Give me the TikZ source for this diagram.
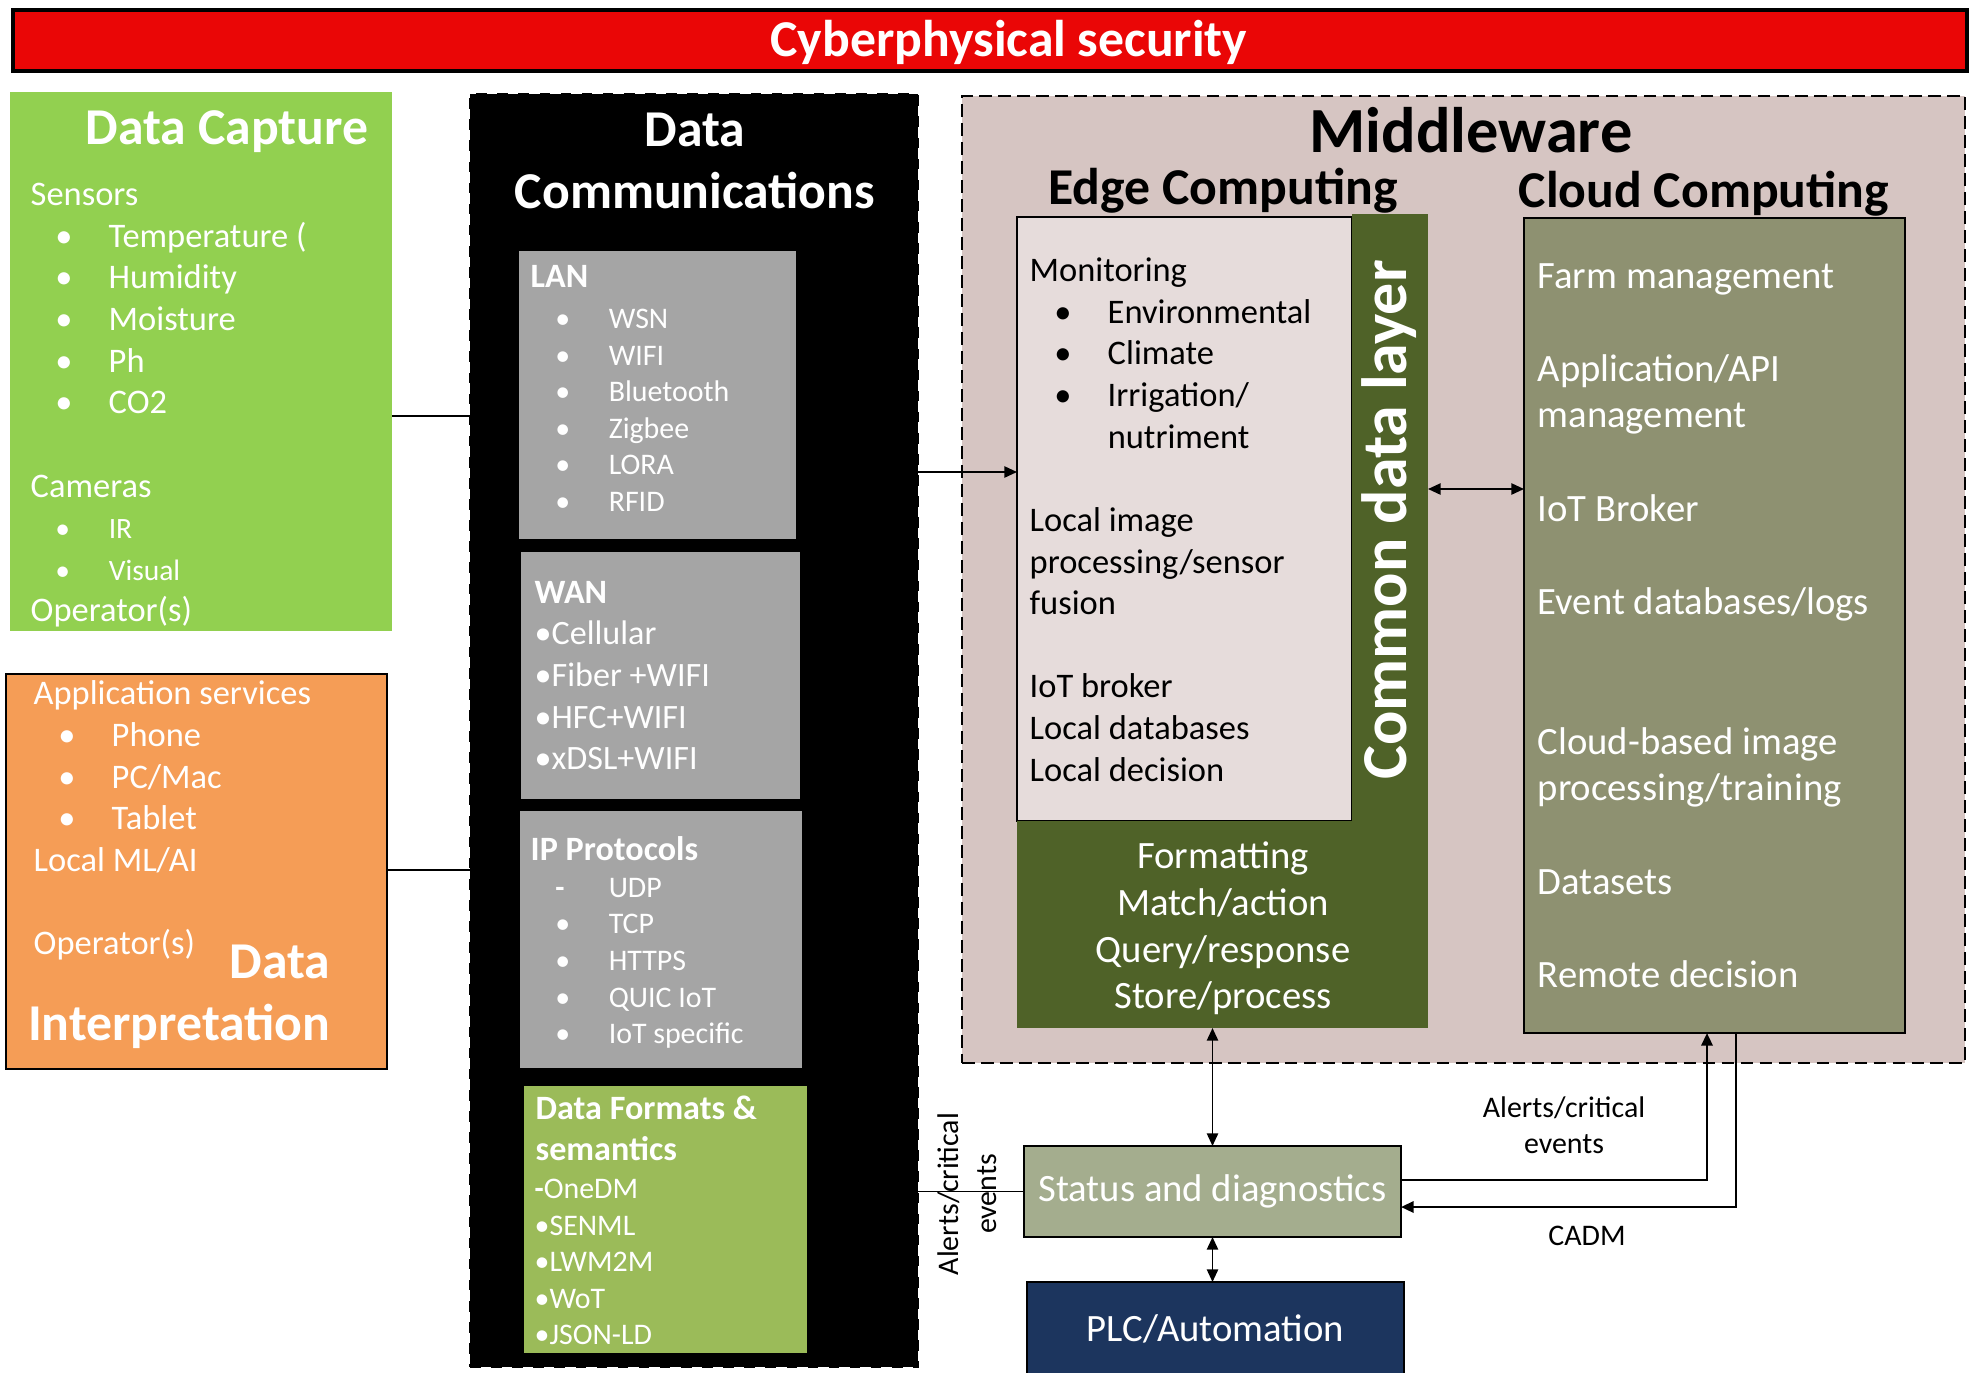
\documentclass[tikz,border=0pt]{standalone}
\usepackage{fontspec}
\setmainfont{Carlito}
\usetikzlibrary{arrows.meta,fit}
\definecolor{secred}{HTML}{EA0606}
\definecolor{capgreen}{HTML}{92D050}
\definecolor{intorange}{HTML}{F59D56}
\definecolor{netgray}{HTML}{A5A5A5}
\definecolor{fmtgreen}{HTML}{9BBB59}
\definecolor{midrose}{HTML}{D6C5C2}
\definecolor{edgerose}{HTML}{E6DCDB}
\definecolor{layergreen}{HTML}{4F6228}
\definecolor{cloudolive}{HTML}{8E9171}
\definecolor{statsage}{HTML}{A4AD8E}
\definecolor{plcnavy}{HTML}{1C355E}
\newcommand{\bitem}[2][\textbullet]{\hspace*{7pt}\makebox[15.2pt][l]{#1}#2}

\begin{document}
\begin{tikzpicture}[
    x=0.01cm, y=-0.01cm,
    >={Triangle[length=3.6pt,width=3.2pt]},
    area/.style={inner sep=0pt, outer sep=0pt},
    txthead/.style={font=\bfseries\fontsize{14.7pt}{17.5pt}\selectfont, text=white, inner sep=0pt, anchor=base, align=center},
    txtbody/.style={font=\fontsize{9.8pt}{11.83pt}\selectfont, text=white, inner sep=0pt, anchor=base west, align=left},
    txtsmall/.style={font=\fontsize{8.5pt}{10.4pt}\selectfont, text=white, inner sep=0pt, anchor=base west, align=left},
    boxhead/.style={font=\bfseries\fontsize{9.7pt}{11.83pt}\selectfont, text=white, inner sep=0pt, anchor=base west, align=left},
    txtlarge/.style={font=\fontsize{11pt}{13.26pt}\selectfont, text=white, inner sep=0pt},
    link/.style={line width=0.5pt},
    flow/.style={->, line width=0.5pt},
    twoway/.style={<->, line width=0.5pt},
    lbl/.style={font=\fontsize{8.5pt}{10.2pt}\selectfont, inner sep=0pt, align=center}
  ]
  \useasboundingbox (0,0) rectangle (1975,1372);

  % Security banner
  \node[area, fill=secred, draw=black, line width=1.2pt, fit={(13,10) (1967,71)}] (sec) {};
  \node[txthead] (sectxt) at (1009,56) {Cyberphysical security};

  % Data capture (multi-line nodes sit on their last baseline)
  \node[area, fill=capgreen, fit={(10,92) (392,631)}] (dcap) {};
  \node[txthead] (dcaptitle) at (227,144) {Data Capture};
  \node[txtbody] (dcaplist) at (30,621.8) {Sensors\\ \bitem{Temperature (}\\ \bitem{Humidity}\\
    \bitem{Moisture}\\ \bitem{Ph}\\ \bitem{CO2}\\ \\ Cameras\\
    {\fontsize{8.4pt}{11.83pt}\selectfont\bitem{IR}}\\
    {\fontsize{8.4pt}{11.83pt}\selectfont\bitem{Visual}}\\ Operator(s)};

  % Data interpretation
  \node[area, fill=intorange, draw=black, line width=0.6pt, fit={(6,674) (387,1069)}] (dint) {};
  \node[txtbody] (dintlist) at (33,954.5) {Application services\\ \bitem{Phone}\\ \bitem{PC/Mac}\\
    \bitem{Tablet}\\ Local ML/AI\\ \\ Operator(s)};
  \node[txthead, anchor=base east, align=right] (dinttitle) at (331,1040.5) {Data\\Interpretation};

  % Data communications
  \node[area, fill=black, draw=black, dashed, line width=0.8pt, fit={(470,94) (918,1367)}] (dcomm) {};
  \node[txthead] (dcommtitle) at (695,208) {Data\\Communications};

  \node[area, fill=netgray, fit={(519,251) (796,539)}] (lan) {};
  \node[boxhead] (lanhead) at (530,287) {LAN};
  \node[txtsmall] (lanlist) at (530,511.3) {\bitem{WSN}\\ \bitem{WIFI}\\ \bitem{Bluetooth}\\
    \bitem{Zigbee}\\ \bitem{LORA}\\ \bitem{RFID}};

  \node[area, fill=netgray, fit={(521,552) (800,799)}] (wan) {};
  \node[boxhead] (wanhead) at (534,603) {WAN};
  \node[txtbody, font=\fontsize{9.7pt}{11.83pt}\selectfont] (wanlist) at (534,769.7)
    {\textbullet Cellular\\ \textbullet Fiber +WIFI\\ \textbullet HFC+WIFI\\ \textbullet xDSL+WIFI};

  \node[area, fill=netgray, fit={(520,811) (802,1068)}] (ipp) {};
  \node[boxhead] (iphead) at (530,860) {IP Protocols};
  \node[txtsmall] (iplist) at (530,1043.7) {\bitem[\textbf{-}]{UDP}\\ \bitem{TCP}\\ \bitem{HTTPS}\\
    \bitem{QUIC IoT}\\ \bitem{IoT specific}};

  \node[area, fill=fmtgreen, fit={(524,1086) (807,1353)}] (fmt) {};
  \node[boxhead] (fmthead) at (535,1160.6) {Data Formats \&\\ semantics};
  \node[txtsmall] (fmtlist) at (534,1344.7) {\textbf{-}OneDM\\ \textbullet SENML\\ \textbullet LWM2M\\
    \textbullet WoT\\ \textbullet JSON-LD};

  % Middleware
  \node[area, fill=midrose, draw=black, line width=0.7pt, dash pattern=on 3.6pt off 1.8pt,
    fit={(962,96) (1965,1063)}] (mid) {};
  \node[txthead, text=black, font=\bfseries\fontsize{18.3pt}{22pt}\selectfont] (midtitle) at (1471,152) {Middleware};
  \node[txthead, text=black] (edgetitle) at (1223,204.5) {Edge Computing};
  \node[txthead, text=black] (cloudtitle) at (1704,207.5) {Cloud Computing};

  \node[area, fill=edgerose, draw=black, line width=0.5pt, fit={(1017,217) (1352,821)}] (edge) {};
  \node[area, fill=layergreen, fit={(1352,214) (1428,1028)}] (cdl) {};
  \node[area, fill=layergreen, fit={(1017,821) (1428,1028)}] (cdlb) {};
  \node[txtbody, text=black] (edgelist) at (1029,781) {Monitoring\\ \bitem{Environmental}\\
    \bitem{Climate}\\ \bitem{Irrigation/}\\ \hspace*{22.2pt}nutriment\\ \\ Local image\\
    processing/sensor\\ fusion\\ \\ IoT broker\\ Local databases\\ Local decision};
  \node[rotate=90, text=white, font=\bfseries\fontsize{18.2pt}{22pt}\selectfont, inner sep=0pt] (cdltxt)
    at (1389,520) {Common data layer};
  \node[txtlarge, align=center, anchor=base] (cdlops) at (1223,1008.8) {Formatting\\ Match/action\\
    Query/response\\ Store/process};

  \node[area, fill=cloudolive, draw=black, line width=0.6pt, fit={(1524,218) (1905,1033)}] (cloud) {};
  \node[txtlarge, align=left, anchor=base west] (cloudlist) at (1537,987.5) {Farm management\\ \\
    Application/API\\ management\\ \\ IoT Broker\\ \\ Event databases/logs\\ \\ \\
    Cloud-based image\\ processing/training\\ \\ Datasets\\ \\ Remote decision};

  % Status and automation
  \node[area, fill=statsage, draw=black, line width=0.6pt, fit={(1024,1146) (1401,1237)}] (status) {};
  \node[txtlarge] (statustxt) at (status.center) {Status and diagnostics};
  \node[area, fill=plcnavy, draw=black, line width=0.6pt, fit={(1027,1282) (1404,1376)}] (plc) {};
  \node[txtlarge] (plctxt) at (plc.center) {PLC/Automation};

  % Connectors
  \draw[link] (dcap.east |- 0,416) -- (dcomm.west |- 0,416);
  \draw[link] (dint.east |- 0,870) -- (dcomm.west |- 0,870);
  \draw[flow] (dcomm.east |- 0,472) -- (edge.west |- 0,472);
  \draw[twoway] (cdl.east |- 0,489) -- (cloud.west |- 0,489);
  \draw[twoway] (status.north |- cdlb.south) -- (status.north);
  \draw[twoway] (status.south) -- (status.south |- plc.north);
  \draw[link] (dcomm.east |- status.west) -- (status.west);
  \draw[flow, line width=0.7pt] (status.east |- 0,1180) -| (cloud.south -| 1707,0);
  \draw[flow, line width=0.7pt] (cloud.south -| 1736,0) |- (status.east |- 0,1207);

  % Labels
  \node[lbl, anchor=base] (uplbl) at (1564,1153.5) {Alerts/critical\\ events};
  \node[lbl, anchor=base] (cadmlbl) at (1587,1245) {CADM};
  \node[lbl, rotate=90, font=\fontsize{8.5pt}{10.75pt}\selectfont] (sidelbl) at (967,1194) {Alerts/critical\\ events};
\end{tikzpicture}
\end{document}
